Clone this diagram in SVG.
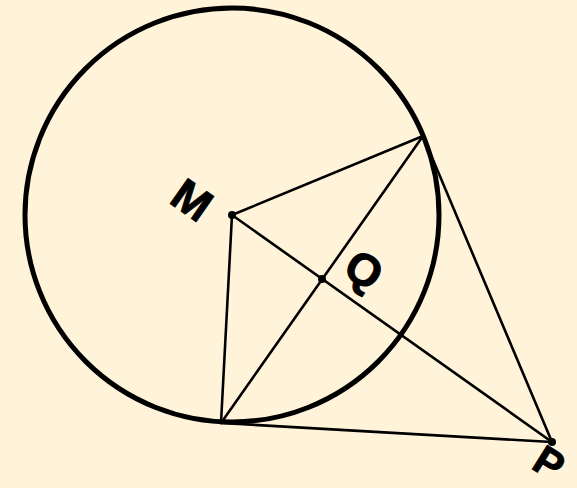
<svg xmlns="http://www.w3.org/2000/svg" width="577" height="488" viewBox="0 0 577 488">
<style>
.ln{stroke:#000;stroke-width:2.6;fill:none;stroke-linecap:round}
.cir{stroke:#000;stroke-width:5;fill:none}
.dot{fill:#000}
.lbl{font-family:"Liberation Sans",Arial,sans-serif;font-weight:bold;font-size:45px;fill:#000;stroke:#000;stroke-width:1;text-anchor:middle;dominant-baseline:central}
</style>
<rect width="577" height="488" fill="#FFF4DA"/>
<g id="circle"><circle class="cir" cx="232" cy="215" r="207"/></g>
<g id="connectors">
<line class="ln" x1="232" y1="215" x2="423" y2="136"/>
<line class="ln" x1="232" y1="215" x2="221" y2="423"/>
<line class="ln" x1="232" y1="215" x2="552" y2="442"/>
<line class="ln" x1="423" y1="136" x2="221" y2="423"/>
<line class="ln" x1="423" y1="136" x2="552" y2="442"/>
<line class="ln" x1="221" y1="423" x2="552" y2="442"/>
</g>
<g id="M"><circle class="dot" cx="232" cy="215" r="4"/><text class="lbl" transform="translate(192,200) rotate(35)">M</text></g>
<g id="Q"><circle class="dot" cx="322" cy="279" r="4"/><text class="lbl" transform="translate(364,270) rotate(32)">Q</text></g>
<g id="P"><circle class="dot" cx="552" cy="442" r="4"/><text class="lbl" style="font-size:41px" transform="translate(549,463) rotate(32)">P</text></g>
</svg>
